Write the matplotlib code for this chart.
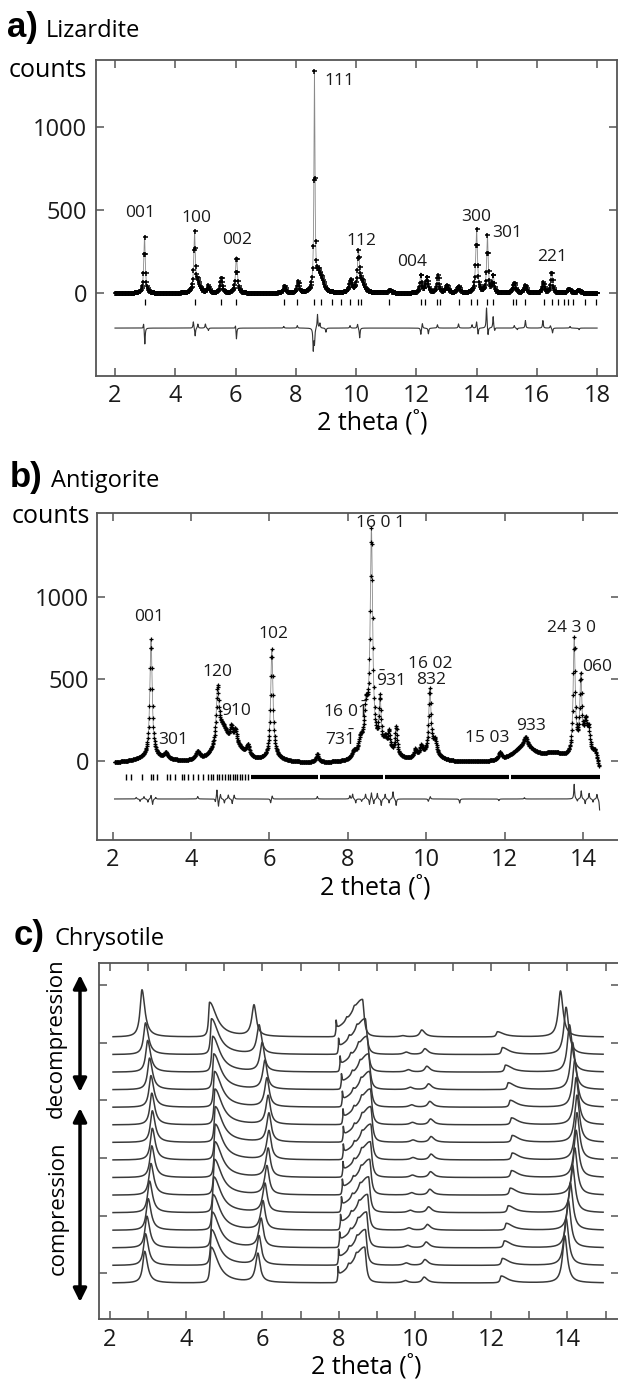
import numpy as np
import matplotlib.pyplot as plt
from matplotlib.patches import FancyArrowPatch

plt.rcParams['font.family'] = ['Open Sans', 'DejaVu Sans']
plt.rcParams['mathtext.fontset'] = 'custom'
plt.rcParams['mathtext.rm'] = 'Open Sans'
plt.rcParams['mathtext.it'] = 'Open Sans'

# ---------------- a) Lizardite : peak table (2theta, counts, hwhm)
a_pos = [2.98, 4.64, 4.75, 5.10, 5.53, 6.03, 7.63, 8.08, 8.62, 8.75, 8.85, 9.82,
         10.08, 10.20, 11.13, 12.15, 12.35, 12.72, 13.02, 13.40, 14.00, 14.36,
         14.55, 15.25, 15.62, 16.22, 16.49, 17.07, 17.40]
a_height = [340, 350, 60, 40, 95, 220, 45, 70, 1300, 90, 60, 75, 230, 60, 20, 115,
            95, 105, 45, 40, 380, 340, 110, 60, 45, 65, 130, 25, 20]
a_width = [0.03, 0.03, 0.08, 0.04, 0.04, 0.035, 0.04, 0.04, 0.02, 0.08, 0.1, 0.05,
           0.04, 0.1, 0.05, 0.03, 0.05, 0.04, 0.05, 0.05, 0.035, 0.03, 0.03, 0.05,
           0.05, 0.04, 0.035, 0.06, 0.06]
a_refl = [2.98, 4.65, 5.53, 6.0, 7.6, 8.05, 8.6, 8.85, 9.2, 9.5, 9.8, 10.05, 10.15,
          11.1, 12.15, 12.3, 12.7, 12.8, 13.4, 13.8, 14.0, 14.35, 14.55, 15.2,
          15.3, 15.6, 16.25, 16.5, 16.7, 16.9, 17.05, 17.2, 17.6, 17.95]
a_res_pos = [2.95, 2.99, 4.60, 4.66, 4.75, 5.00, 5.10, 6.00, 6.03, 7.60, 8.05, 8.58,
             8.62, 8.72, 8.80, 9.00, 9.80, 10.05, 10.12, 12.15, 12.20, 12.40, 12.70,
             13.40, 13.85, 14.00, 14.05, 14.33, 14.38, 14.55, 14.60, 15.25, 15.35,
             15.62, 16.20, 16.45, 16.52, 17.10, 17.40]
a_res_amp = [35, -100, 40, -50, 25, 25, -15, 25, -70, 10, 15, -130, -90, 85, 30, -25,
             15, 25, -60, -40, 30, -35, 20, 25, 20, 40, -40, 125, -50, 70, -20, 15,
             -10, 45, 45, 15, -30, 10, -10]
a_labels = ['001', '100', '002', '111', '112', '004', '300', '301', '221']
a_label_x = [2.84, 4.70, 6.04, 9.45, 10.19, 11.87, 13.98, 15.01, 16.52]
a_label_y = [480, 450, 318, 1276, 315, 188, 456, 359, 218]

# ---------------- b) Antigorite
b_pos = [2.98, 3.00, 3.36, 4.17, 4.68, 4.80, 5.03, 5.13, 5.20, 5.45, 6.06, 6.10,
         7.22, 8.15, 8.32, 8.46, 8.55, 8.60, 8.82, 8.95, 9.00, 9.05, 9.23, 9.72,
         9.87, 10.09, 10.10, 10.22, 11.88, 12.50, 12.53, 13.25, 13.77, 13.94,
         14.00, 14.06, 14.14, 14.30, 14.48]
b_height = [720, 40, 35, 50, 320, 200, 100, 90, 60, 70, 660, 30, 50, 40, 80, 200,
            150, 1250, 300, 60, 60, 110, 170, 50, 60, 390, 50, 80, 45, 100, 55, 45,
            700, 430, 80, 150, 130, 50, -120]
b_width = [0.035, 0.5, 0.05, 0.06, 0.04, 0.2, 0.04, 0.04, 0.2, 0.05, 0.035, 0.3,
           0.04, 0.05, 0.06, 0.05, 0.15, 0.035, 0.03, 0.04, 0.3, 0.03, 0.03, 0.04,
           0.04, 0.035, 0.3, 0.05, 0.04, 0.35, 0.05, 0.3, 0.03, 0.03, 0.25, 0.04,
           0.04, 0.05, 0.07]
b_offset = -20
b_refl = [2.34, 2.48, 2.74, 2.98, 3.04, 3.14, 3.38, 3.46, 3.59, 3.76, 3.83, 3.93,
          4.06, 4.18, 4.30, 4.44, 4.52, 4.57, 4.66, 4.72, 4.80, 4.86, 4.93, 5.00,
          5.06, 5.12, 5.18, 5.25, 5.31, 5.38, 5.45]
b_refl_bands = [(5.52, 7.25), (7.30, 8.90), (8.95, 12.10), (12.15, 14.42)]
b_res_pos = [2.60, 2.70, 2.80, 2.90, 2.98, 3.02, 3.10, 4.17, 4.62, 4.66, 4.70, 4.75,
             4.85, 4.95, 5.05, 5.10, 6.03, 6.07, 7.22, 8.05, 8.12, 8.20, 8.35, 8.45,
             8.55, 8.60, 8.66, 8.75, 8.85, 8.95, 9.05, 9.15, 9.23, 10.05, 10.10,
             10.85, 11.85, 12.50, 13.77, 13.85, 13.95, 14.05, 14.15, 14.25, 14.35,
             14.42]
b_res_amp = [10, -15, 15, -20, 25, -35, 10, 15, -20, 60, -50, 30, -25, 25, -30, 25,
             -25, 20, 15, 20, 30, -25, -15, 30, -35, 40, -30, 35, -40, 30, -25, 45,
             -40, -15, 15, -25, -10, 8, 90, -15, 50, -30, 35, -20, 30, -70]
b_labels = ['001', '301', '120', '910', '102', r'16 0$\bar{1}$', r'73$\bar{1}$',
            '16 0 1', r'$\bar{9}$31', '16 02', '832', '15 03', '933', '24 3 0', '060']
b_label_x = [2.93, 3.54, 4.68, 5.15, 6.11, 7.93, 7.81, 8.82, 9.08, 10.11, 10.11,
             11.56, 12.66, 13.70, 14.36]
b_label_y = [882, 124, 542, 307, 776, 301, 132, 1452, 489, 593, 491, 138, 214,
             811, 572]

# ---------------- c) Chrysotile : peaks of the lowest pattern, shift at max pressure
c_base = [2.91, 4.65, 5.88, 7.98, 8.68, 8.26, 8.46, 9.75, 10.24, 12.26, 13.93]
c_delta = [0.20, 0.11, 0.29, 0.14, 0.16, 0.15, 0.15, 0.20, 0.18, 0.29, 0.32]
c_height = [0.55, 0.62, 0.50, 0.14, 0.62, 0.06, 0.06, 0.04, 0.10, 0.12, 0.82]
c_height_last = [0.82, 0.60, 0.54, 0.14, 0.65, 0.05, 0.05, 0.02, 0.12, 0.09, 0.80]
c_wleft = [0.06, 0.03, 0.07, 0.015, 0.38, 0.03, 0.03, 0.08, 0.06, 0.03, 0.07]
c_wright = [0.09, 0.22, 0.07, 0.015, 0.05, 0.03, 0.03, 0.08, 0.10, 0.20, 0.08]
# relative pressure of each pattern, bottom to top
c_shift = [0.0, 0.11, 0.29, 0.46, 0.64, 0.82, 0.93, 1.0, 1.0, 0.93, 0.82, 0.64,
           0.39, 0.11, -0.35]


def profile(x, pos, hgt, wl, wr, edge=None):
    y = np.zeros_like(x)
    for i, (p, h, l, r) in enumerate(zip(pos, hgt, wl, wr)):
        w = np.where(x < p, l, r)
        term = h / (1 + ((x - p) / w) ** 2)
        if edge is not None and i == edge[0]:
            term = term * (x >= edge[1])
        y += term
    return y


W, H = 618, 1388
fig = plt.figure(figsize=(W / 100, H / 100), dpi=100)


def box(l, t, r, b):
    return [l / W, 1 - b / H, (r - l) / W, (b - t) / H]


def fxy(x, y):
    return x / W, 1 - y / H


def style(ax):
    for s in ax.spines.values():
        s.set_color('#555555')
        s.set_linewidth(1.3)
    ax.tick_params(which='both', direction='in', top=True, right=True, length=6,
                   width=1.1, color='#555555', labelsize=17, pad=6,
                   labelcolor='#1a1a1a')


# ---- panel a
ax = fig.add_axes(box(95.7, 60, 617, 375.7))
style(ax)
xf = np.arange(2.0, 18.0001, 0.002)
xo = np.arange(2.0, 18.0001, 0.02)
ax.plot(xf, profile(xf, a_pos, a_height, a_width, a_width), color='#8a8a8a', lw=0.6)
ax.plot(xo, profile(xo, a_pos, a_height, a_width, a_width), '+', color='k',
        ms=3.6, mew=1.1)
ax.plot(a_refl, np.full(len(a_refl), -51), '|', color='k', ms=4, mew=0.9)
ax.plot(xf, -211 + profile(xf, a_res_pos, a_res_amp, [0.015] * len(a_res_pos),
                           [0.015] * len(a_res_pos)), color='#333333', lw=0.8)
for t, x, y in zip(a_labels, a_label_x, a_label_y):
    ax.text(x, y, t, fontsize=12.5, ha='center', va='center', color='#1a1a1a')
ax.set_xlim(1.36, 18.66)
ax.set_ylim(-498, 1404)
ax.set_xticks(range(2, 19, 2))
ax.set_yticks([0, 500, 1000])
fig.text(*fxy(87, 77), 'counts', fontsize=18, ha='right', va='baseline')
fig.text(*fxy(372, 423), '2 theta (˚)', fontsize=18, ha='center', va='center')
fig.text(*fxy(7, 37), 'a)', fontsize=25, weight='bold', family='Liberation Sans',
         va='baseline')
fig.text(*fxy(46, 37), 'Lizardite', fontsize=17, va='baseline')

# ---- panel b
ax = fig.add_axes(box(97.3, 513.3, 618.5, 840))
style(ax)
xf = np.arange(2.05, 14.42, 0.002)
xo = np.arange(2.05, 14.42, 0.01)
ax.plot(xf, b_offset + profile(xf, b_pos, b_height, b_width, b_width),
        color='#8a8a8a', lw=0.6)
ax.plot(xo, b_offset + profile(xo, b_pos, b_height, b_width, b_width), '+',
        color='k', ms=3.2, mew=0.9)
ax.plot(b_refl, np.full(len(b_refl), -100), '|', color='k', ms=4, mew=1)
for x0, x1 in b_refl_bands:
    ax.plot([x0, x1], [-100, -100], color='k', lw=3, solid_capstyle='butt')
ax.plot(xf, -234 + profile(xf, b_res_pos, b_res_amp, [0.012] * len(b_res_pos),
                           [0.012] * len(b_res_pos)), color='#333333', lw=0.8)
for t, x, y in zip(b_labels, b_label_x, b_label_y):
    ax.text(x, y, t, fontsize=12.5, ha='center', va='center', color='#1a1a1a')
ax.set_xlim(1.61, 14.90)
ax.set_ylim(-485, 1514)
ax.set_xticks(range(2, 15, 2))
ax.set_yticks([0, 500, 1000])
fig.text(*fxy(90, 523), 'counts', fontsize=18, ha='right', va='baseline')
fig.text(*fxy(375, 888), '2 theta (˚)', fontsize=18, ha='center', va='center')
fig.text(*fxy(10, 487), 'b)', fontsize=25, weight='bold', family='Liberation Sans',
         va='baseline')
fig.text(*fxy(51, 487), 'Antigorite', fontsize=17, va='baseline')

# ---- panel c
ax = fig.add_axes(box(99.3, 962.7, 618.5, 1319.3))
style(ax)
xc = np.arange(2.08, 14.94, 0.004)
for i, s in enumerate(c_shift):
    hts = c_height_last if i == len(c_shift) - 1 else c_height
    pos = np.array(c_base) + s * np.array(c_delta)
    yv = profile(xc, pos, hts, c_wleft, c_wright, edge=(4, pos[3]))
    ax.plot(xc, -0.17 + i * 0.305 + yv, color='#3a3a3a', lw=1.1)
ax.set_xlim(1.72, 15.34)
ax.set_ylim(-0.80, 5.39)
ax.set_xticks(range(2, 15, 2))
ax.set_xticks(range(3, 16, 2), minor=True)
ax.set_yticks(range(0, 6))
ax.set_yticklabels([])
fig.text(*fxy(366, 1367), '2 theta (˚)', fontsize=18, ha='center', va='center')
fig.text(*fxy(14, 945), 'c)', fontsize=25, weight='bold', family='Liberation Sans',
         va='baseline')
fig.text(*fxy(55, 945), 'Chrysotile', fontsize=17, va='baseline')

for y0, y1 in [(975, 1092), (1108, 1302)]:
    fig.add_artist(FancyArrowPatch(fxy(80, y0), fxy(80, y1), transform=fig.transFigure,
                                   arrowstyle='<|-|>', mutation_scale=20, lw=2.5,
                                   color='k', shrinkA=0, shrinkB=0))
fig.text(*fxy(56, 1038), 'decompression', fontsize=16, rotation=90,
         ha='center', va='center')
fig.text(*fxy(58, 1208), 'compression', fontsize=16, rotation=90,
         ha='center', va='center')

fig.savefig('out.png', dpi=100)
